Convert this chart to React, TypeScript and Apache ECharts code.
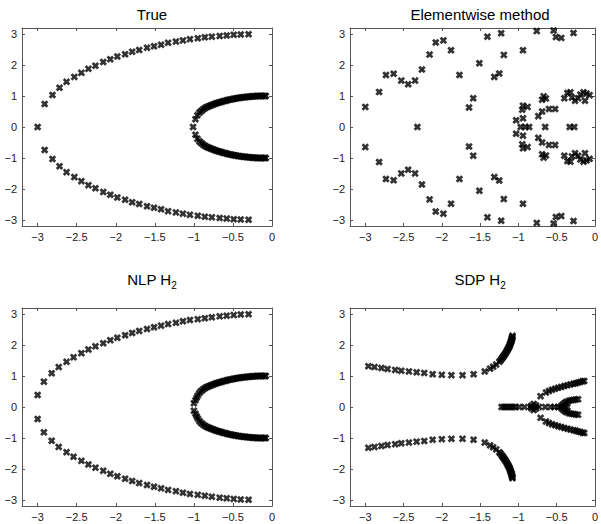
import React, { useEffect, useRef } from "react";
import * as echarts from "echarts";

// ---------- Tick labels ----------
const xTicks = [-3, -2.5, -2, -1.5, -1, -0.5, 0];
const yTicks = [-3, -2, -1, 0, 1, 2, 3];

// ---------- Titles ----------
const titles = ["True", "Elementwise method", "NLP H{s|2}", "SDP H{s|2}"];

// ---------- True (upper half; lower half is the complex conjugate) ----------
const trueOuterX = [-3.0, -2.91, -2.81, -2.72, -2.63, -2.53, -2.44, -2.35, -2.26, -2.16, -2.07, -1.98, -1.88, -1.79, -1.70, -1.60, -1.51, -1.42, -1.33, -1.23, -1.14, -1.05, -0.95, -0.86, -0.77, -0.67, -0.58, -0.49, -0.40, -0.30];
const trueOuterY = [0, 0.745, 1.035, 1.27, 1.46, 1.62, 1.75, 1.88, 1.98, 2.10, 2.19, 2.28, 2.35, 2.43, 2.49, 2.56, 2.61, 2.66, 2.72, 2.76, 2.80, 2.84, 2.87, 2.90, 2.92, 2.94, 2.96, 2.98, 2.99, 3.0];
const trueInnerX = [-1.01, -0.98, -0.955, -0.93, -0.91, -0.89, -0.87, -0.85, -0.83, -0.81, -0.79, -0.77, -0.75, -0.73, -0.71, -0.69, -0.67, -0.65, -0.63, -0.61, -0.59, -0.57, -0.55, -0.53, -0.51, -0.49, -0.47, -0.45, -0.43, -0.41, -0.39, -0.37, -0.35, -0.33, -0.31, -0.29, -0.27, -0.25, -0.23, -0.21, -0.19, -0.17, -0.15, -0.13, -0.11, -0.09, -0.08];
const trueInnerY = [0, 0.25, 0.38, 0.46, 0.51, 0.55, 0.59, 0.62, 0.65, 0.67, 0.69, 0.71, 0.73, 0.75, 0.77, 0.78, 0.80, 0.81, 0.83, 0.84, 0.85, 0.87, 0.88, 0.89, 0.90, 0.91, 0.92, 0.93, 0.94, 0.945, 0.95, 0.96, 0.965, 0.97, 0.975, 0.98, 0.985, 0.99, 0.99, 0.995, 1.0, 1.0, 1.0, 1.0, 1.0, 1.0, 1.0];

// ---------- Elementwise method ----------
const elemUpperX = [-3.0, -2.82, -2.73, -2.63, -2.53, -2.44, -2.35, -2.26, -2.16, -2.08, -1.98, -1.88, -1.77, -1.645, -1.59, -1.51, -1.405, -1.315, -1.25, -1.225, -1.19, -0.94, -0.76, -0.54, -0.51, -0.44, -0.28, -1.03, -0.94, -0.95, -0.94, -0.88, -0.74, -0.69, -0.69, -0.67, -0.64, -0.60, -0.52, -0.40, -0.36, -0.32, -0.30, -0.26, -0.22, -0.19, -0.15, -0.11, -0.07, -0.13];
const elemUpperY = [0.65, 1.13, 1.68, 1.72, 1.50, 1.38, 1.50, 1.86, 2.34, 2.73, 2.80, 2.48, 1.68, 0.63, 0.93, 2.06, 2.92, 1.62, 1.73, 3.03, 2.33, 2.48, 3.10, 3.12, 2.91, 2.88, 3.04, 0.22, 0.28, 0.56, 0.69, 0.65, 0.35, 0.50, 0.88, 0.99, 0.92, 0.58, 0.58, 0.93, 1.10, 1.12, 0.95, 0.85, 0.93, 1.05, 1.12, 1.08, 1.03, 0.85];
const elemRealX = [-2.32, -0.97, -0.91, -0.86, -0.65, -0.33, -0.27];

// ---------- NLP H2 ----------
const nlpOuterX = [-3.0, -2.92, -2.82, -2.73, -2.63, -2.54, -2.44, -2.35, -2.26, -2.16, -2.07, -1.98, -1.88, -1.79, -1.70, -1.60, -1.51, -1.42, -1.33, -1.23, -1.14, -1.05, -0.95, -0.86, -0.77, -0.67, -0.58, -0.49, -0.40, -0.30];
const nlpOuterY = [0.39, 0.82, 1.09, 1.29, 1.46, 1.61, 1.74, 1.86, 1.96, 2.06, 2.16, 2.24, 2.32, 2.39, 2.46, 2.52, 2.58, 2.63, 2.68, 2.72, 2.77, 2.81, 2.84, 2.87, 2.90, 2.93, 2.95, 2.97, 2.99, 3.0];
const nlpInnerX = [-1.0, -0.98, -0.965, -0.95, -0.93, -0.91, -0.89, -0.87, -0.85, -0.83, -0.81, -0.79, -0.77, -0.75, -0.73, -0.71, -0.69, -0.67, -0.65, -0.63, -0.61, -0.59, -0.57, -0.55, -0.53, -0.51, -0.49, -0.47, -0.45, -0.43, -0.41, -0.39, -0.37, -0.35, -0.33, -0.31, -0.29, -0.27, -0.25, -0.23, -0.21, -0.19, -0.17, -0.15, -0.13, -0.11, -0.09, -0.08];
const nlpInnerY = [0.12, 0.22, 0.30, 0.37, 0.45, 0.51, 0.55, 0.59, 0.62, 0.65, 0.67, 0.69, 0.71, 0.73, 0.75, 0.77, 0.78, 0.80, 0.81, 0.83, 0.84, 0.85, 0.87, 0.88, 0.89, 0.90, 0.91, 0.92, 0.93, 0.94, 0.945, 0.95, 0.96, 0.965, 0.97, 0.975, 0.98, 0.985, 0.99, 0.99, 0.995, 1.0, 1.0, 1.0, 1.0, 1.0, 1.0, 1.0];

// ---------- SDP H2 ----------
const sdpOuterX = [-2.96, -2.88, -2.79, -2.71, -2.61, -2.53, -2.43, -2.33, -2.23, -2.12, -2.0, -1.875, -1.73, -1.585, -1.44, -1.37, -1.33, -1.29, -1.25, -1.235, -1.22, -1.21, -1.20, -1.19, -1.18, -1.17, -1.16, -1.15, -1.145, -1.135, -1.13, -1.12, -1.115, -1.11, -1.105, -1.10, -1.095, -1.09, -1.088, -1.085, -1.082, -1.08, -1.077];
const sdpOuterY = [1.32, 1.29, 1.26, 1.23, 1.20, 1.17, 1.15, 1.12, 1.10, 1.06, 1.04, 1.03, 1.03, 1.06, 1.15, 1.24, 1.30, 1.37, 1.46, 1.50, 1.55, 1.59, 1.62, 1.66, 1.69, 1.73, 1.77, 1.81, 1.84, 1.88, 1.91, 1.95, 1.98, 2.02, 2.05, 2.09, 2.12, 2.15, 2.18, 2.21, 2.24, 2.27, 2.30];
const sdpRightX = [-0.71, -0.64, -0.60, -0.56, -0.52, -0.48, -0.44, -0.40, -0.36, -0.32, -0.28, -0.25, -0.22, -0.19, -0.16, -0.14, -0.43, -0.41, -0.39, -0.37, -0.34, -0.31, -0.28, -0.25, -0.22, -0.80, -0.77, -0.83];
const sdpRightY = [0.35, 0.47, 0.52, 0.56, 0.59, 0.62, 0.65, 0.68, 0.70, 0.73, 0.75, 0.77, 0.79, 0.81, 0.83, 0.84, 0.06, 0.10, 0.14, 0.17, 0.20, 0.22, 0.23, 0.24, 0.25, 0.10, 0.05, 0.04];
const sdpRealX = [-1.22, -1.19, -1.16, -1.13, -1.10, -1.07, -1.04, -0.99, -0.92, -0.84, -0.73, -0.65, -0.58, -0.53, -0.48, -0.45, -0.42, -0.39, -0.36];

// ---------- helpers ----------
const zip = (xs: number[], ys: number[]) => xs.map((x, i) => [x, ys[i]]);
// eigenvalues come in complex-conjugate pairs: plot each upper point and its mirror
const withConj = (pts: number[][]) => [...pts, ...pts.filter((p) => p[1] !== 0).map((p) => [p[0], -p[1]])];
const real = (xs: number[]) => xs.map((x) => [x, 0]);

const plotData: number[][][] = [
  withConj([...zip(trueOuterX, trueOuterY), ...zip(trueInnerX, trueInnerY)]),
  withConj([...zip(elemUpperX, elemUpperY), ...real(elemRealX)]),
  withConj([...zip(nlpOuterX, nlpOuterY), ...zip(nlpInnerX, nlpInnerY)]),
  withConj([...zip(sdpOuterX, sdpOuterY), ...zip(sdpRightX, sdpRightY), ...real(sdpRealX)]),
];

const CROSS = "path://M0,2.6 L2.6,0 L5,2.4 L7.4,0 L10,2.6 L7.6,5 L10,7.4 L7.4,10 L5,7.6 L2.6,10 L0,7.4 L2.4,5 Z";
const FONT = "Liberation Sans";
const AXIS_COLOR = "#555";
const fmt = (v: number) => (v === 0 ? "0" : (v < 0 ? "\u2212" : "") + String(Math.abs(v)));

export default function App() {
  const ref = useRef<HTMLDivElement>(null);
  useEffect(() => {
    if (!ref.current) return;
    const chart = echarts.init(ref.current, undefined, { renderer: "svg" });
    const grids = [
      { left: 22, top: 28, width: 250, height: 198 },
      { left: 350, top: 28, width: 250, height: 198 },
      { left: 22, top: 308, width: 250, height: 198 },
      { left: 350, top: 308, width: 250, height: 198 },
    ];
    const titleTops = [2, 2, 263, 263];
    const xAxis: any[] = [];
    const yAxis: any[] = [];
    const series: any[] = [];
    const title: any[] = [];
    grids.forEach((g, i) => {
      const common = {
        type: "value",
        gridIndex: i,
        splitLine: { show: false },
        axisLine: { show: true, onZero: false, lineStyle: { color: AXIS_COLOR, width: 1 } },
        axisTick: { show: true, inside: true, length: 3, lineStyle: { color: AXIS_COLOR } },
      };
      xAxis.push({
        ...common,
        position: "bottom",
        min: -3.2,
        max: 0,
        axisTick: { ...common.axisTick, customValues: xTicks },
        axisLabel: { customValues: xTicks, formatter: fmt, fontSize: 11, fontFamily: FONT, color: "#222", margin: 5 },
      });
      xAxis.push({
        ...common,
        position: "top",
        min: -3.2,
        max: 0,
        axisTick: { ...common.axisTick, customValues: xTicks },
        axisLabel: { show: false },
      });
      yAxis.push({
        ...common,
        position: "left",
        min: -3.2,
        max: 3.2,
        axisTick: { ...common.axisTick, customValues: yTicks },
        axisLabel: { customValues: yTicks, formatter: fmt, fontSize: 11, fontFamily: FONT, color: "#222", margin: 5 },
      });
      yAxis.push({
        ...common,
        position: "right",
        min: -3.2,
        max: 3.2,
        axisTick: { ...common.axisTick, customValues: yTicks },
        axisLabel: { show: false },
      });
      series.push({
        type: "scatter",
        xAxisIndex: i * 2,
        yAxisIndex: i * 2,
        symbol: CROSS,
        symbolSize: 7.5,
        itemStyle: { color: "#000" },
        data: plotData[i],
        clip: true,
      });
      title.push({
        text: titles[i],
        left: g.left + g.width / 2,
        top: titleTops[i],
        textAlign: "center",
        textStyle: {
          fontFamily: FONT,
          fontSize: 15,
          fontWeight: "normal",
          color: "#000",
          rich: {
            s: { fontFamily: FONT, fontSize: 10, color: "#000", padding: [12, 0, 0, 0] },
          },
        },
      });
    });
    chart.setOption({
      animation: false,
      backgroundColor: "#fff",
      title,
      grid: grids.map((g) => ({ ...g, containLabel: false })),
      xAxis,
      yAxis,
      series,
    });
    return () => chart.dispose();
  }, []);
  return <div ref={ref} style={{ position: "absolute", left: 0, top: 0, width: 601, height: 524 }} />;
}
